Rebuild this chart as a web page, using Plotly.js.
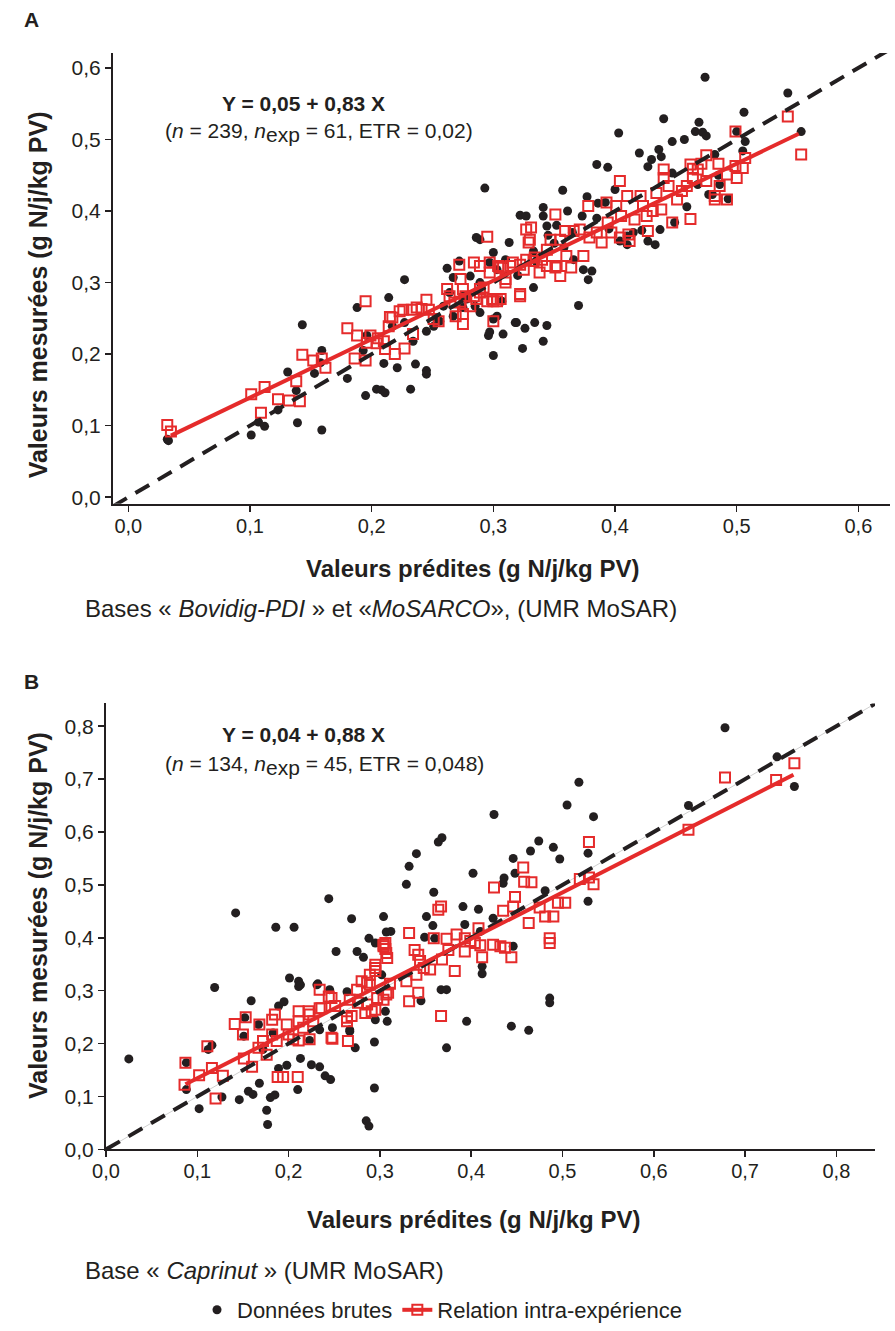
<!DOCTYPE html>
<html><head><meta charset="utf-8">
<script src="https://cdn.plot.ly/plotly-3.0.1.min.js"></script>
<style>html,body{margin:0;padding:0;background:#fff}#chart{width:895px;height:1331px}</style>
</head><body><div id="chart"></div>
<script>
// ---------- Data ----------
const tickValsA = [0, 0.1, 0.2, 0.3, 0.4, 0.5, 0.6];
const tickValsB = [0, 0.1, 0.2, 0.3, 0.4, 0.5, 0.6, 0.7, 0.8];

// Panel A – raw data (black dots) [predicted, measured]
const rawA = [[0.032,0.081],[0.033,0.079],[0.101,0.087],[0.107,0.105],[0.112,0.099],[0.123,0.122],[0.131,0.175],[0.139,0.104],[0.138,0.149],[0.143,0.241],[0.153,0.173],[0.158,0.188],[0.159,0.205],[0.159,0.094],[0.180,0.166],[0.188,0.265],[0.195,0.142],[0.193,0.205],[0.204,0.151],[0.208,0.150],[0.211,0.146],[0.210,0.187],[0.214,0.279],[0.217,0.239],[0.221,0.181],[0.232,0.151],[0.236,0.186],[0.245,0.177],[0.245,0.172],[0.227,0.304],[0.234,0.218],[0.227,0.244],[0.245,0.232],[0.300,0.198],[0.296,0.226],[0.297,0.231],[0.308,0.228],[0.318,0.244],[0.324,0.208],[0.326,0.236],[0.334,0.244],[0.341,0.218],[0.344,0.240],[0.333,0.293],[0.300,0.342],[0.262,0.320],[0.293,0.432],[0.322,0.394],[0.327,0.393],[0.286,0.363],[0.313,0.356],[0.272,0.330],[0.267,0.307],[0.281,0.309],[0.289,0.300],[0.297,0.328],[0.303,0.318],[0.307,0.274],[0.300,0.249],[0.319,0.244],[0.196,0.226],[0.253,0.251],[0.259,0.267],[0.264,0.286],[0.275,0.281],[0.285,0.267],[0.474,0.587],[0.542,0.565],[0.506,0.538],[0.440,0.529],[0.469,0.524],[0.403,0.509],[0.466,0.511],[0.472,0.510],[0.475,0.505],[0.457,0.500],[0.447,0.497],[0.500,0.511],[0.507,0.497],[0.553,0.511],[0.420,0.481],[0.436,0.486],[0.438,0.476],[0.430,0.472],[0.427,0.462],[0.385,0.465],[0.394,0.461],[0.482,0.479],[0.505,0.484],[0.447,0.453],[0.485,0.450],[0.486,0.437],[0.468,0.437],[0.357,0.429],[0.400,0.430],[0.377,0.420],[0.386,0.411],[0.392,0.412],[0.477,0.423],[0.480,0.423],[0.459,0.406],[0.493,0.417],[0.449,0.384],[0.437,0.374],[0.427,0.358],[0.433,0.353],[0.422,0.373],[0.341,0.393],[0.341,0.405],[0.344,0.379],[0.361,0.400],[0.373,0.393],[0.333,0.344],[0.358,0.349],[0.366,0.332],[0.374,0.318],[0.381,0.316],[0.378,0.304],[0.370,0.268],[0.404,0.358],[0.410,0.353],[0.345,0.366],[0.289,0.360],[0.310,0.332],[0.395,0.375],[0.410,0.365],[0.385,0.390],[0.415,0.370],[0.278,0.277],[0.267,0.253],[0.275,0.265],[0.289,0.258],[0.303,0.253],[0.256,0.246],[0.251,0.239],[0.365,0.370],[0.350,0.355],[0.320,0.310],[0.335,0.330],[0.352,0.380]];

// Panel A – intra-experiment relation (red open squares)
const intraA = [[0.032,0.101],[0.035,0.092],[0.101,0.144],[0.112,0.154],[0.109,0.118],[0.123,0.137],[0.132,0.135],[0.141,0.134],[0.138,0.162],[0.143,0.199],[0.152,0.191],[0.159,0.194],[0.162,0.181],[0.180,0.236],[0.188,0.226],[0.195,0.274],[0.186,0.194],[0.195,0.191],[0.199,0.226],[0.196,0.216],[0.204,0.215],[0.210,0.218],[0.211,0.207],[0.215,0.252],[0.214,0.239],[0.219,0.200],[0.223,0.260],[0.205,0.222],[0.217,0.251],[0.227,0.208],[0.226,0.262],[0.233,0.262],[0.234,0.228],[0.237,0.265],[0.241,0.263],[0.245,0.276],[0.247,0.262],[0.251,0.249],[0.255,0.246],[0.262,0.291],[0.264,0.281],[0.268,0.272],[0.273,0.273],[0.275,0.291],[0.273,0.305],[0.272,0.325],[0.277,0.281],[0.281,0.267],[0.284,0.281],[0.286,0.277],[0.289,0.286],[0.292,0.293],[0.295,0.274],[0.300,0.274],[0.303,0.274],[0.284,0.328],[0.297,0.328],[0.304,0.323],[0.308,0.321],[0.310,0.300],[0.316,0.328],[0.322,0.325],[0.325,0.318],[0.327,0.332],[0.329,0.356],[0.327,0.374],[0.322,0.281],[0.300,0.246],[0.275,0.242],[0.275,0.256],[0.269,0.253],[0.295,0.364],[0.289,0.323],[0.297,0.314],[0.306,0.321],[0.314,0.323],[0.331,0.377],[0.330,0.360],[0.334,0.335],[0.340,0.332],[0.344,0.346],[0.347,0.360],[0.351,0.395],[0.351,0.321],[0.355,0.309],[0.359,0.372],[0.360,0.337],[0.364,0.321],[0.366,0.372],[0.371,0.374],[0.374,0.337],[0.378,0.407],[0.379,0.363],[0.385,0.370],[0.389,0.356],[0.393,0.412],[0.394,0.384],[0.397,0.370],[0.401,0.407],[0.404,0.442],[0.404,0.363],[0.405,0.393],[0.410,0.421],[0.411,0.367],[0.412,0.358],[0.416,0.388],[0.421,0.421],[0.423,0.407],[0.426,0.393],[0.427,0.372],[0.431,0.400],[0.434,0.425],[0.438,0.402],[0.440,0.458],[0.440,0.446],[0.444,0.435],[0.447,0.384],[0.451,0.416],[0.455,0.428],[0.459,0.435],[0.462,0.389],[0.462,0.465],[0.464,0.446],[0.464,0.459],[0.468,0.458],[0.471,0.466],[0.475,0.478],[0.475,0.442],[0.482,0.421],[0.485,0.466],[0.486,0.435],[0.482,0.416],[0.492,0.416],[0.492,0.451],[0.499,0.463],[0.500,0.446],[0.505,0.460],[0.507,0.474],[0.499,0.511],[0.542,0.532],[0.553,0.479],[0.355,0.360],[0.322,0.284],[0.333,0.330],[0.289,0.291],[0.299,0.277],[0.306,0.277],[0.310,0.305],[0.344,0.323],[0.338,0.314],[0.352,0.323]];

// Panel A – fitted line Y = 0,05 + 0,83 X (end points) and identity line
const fitAx = [0.035, 0.551];
const fitAy = [0.086, 0.508];
const diagA = [-0.0126, 0.63];

// Panel B – raw data (black dots)
const rawB = [[0.025,0.171],[0.088,0.164],[0.088,0.113],[0.102,0.077],[0.112,0.189],[0.116,0.197],[0.119,0.306],[0.127,0.099],[0.142,0.447],[0.146,0.094],[0.151,0.214],[0.152,0.249],[0.156,0.110],[0.161,0.104],[0.159,0.281],[0.168,0.125],[0.167,0.236],[0.172,0.189],[0.176,0.074],[0.177,0.047],[0.180,0.098],[0.185,0.103],[0.186,0.420],[0.189,0.271],[0.195,0.279],[0.189,0.153],[0.198,0.159],[0.183,0.220],[0.201,0.324],[0.206,0.420],[0.211,0.318],[0.211,0.308],[0.210,0.113],[0.213,0.172],[0.223,0.206],[0.225,0.160],[0.232,0.313],[0.234,0.156],[0.240,0.139],[0.246,0.132],[0.244,0.474],[0.234,0.226],[0.245,0.302],[0.248,0.230],[0.252,0.374],[0.264,0.298],[0.267,0.226],[0.269,0.436],[0.273,0.192],[0.275,0.374],[0.282,0.363],[0.288,0.399],[0.294,0.203],[0.294,0.116],[0.285,0.054],[0.288,0.044],[0.295,0.245],[0.304,0.440],[0.302,0.330],[0.306,0.261],[0.307,0.411],[0.308,0.242],[0.295,0.390],[0.312,0.412],[0.329,0.501],[0.332,0.535],[0.340,0.559],[0.364,0.581],[0.368,0.589],[0.359,0.486],[0.351,0.440],[0.358,0.423],[0.349,0.401],[0.391,0.459],[0.408,0.454],[0.402,0.522],[0.425,0.633],[0.393,0.425],[0.446,0.550],[0.436,0.513],[0.435,0.503],[0.448,0.522],[0.465,0.564],[0.474,0.583],[0.490,0.571],[0.497,0.549],[0.505,0.651],[0.518,0.694],[0.534,0.629],[0.528,0.560],[0.528,0.469],[0.481,0.489],[0.446,0.384],[0.412,0.346],[0.412,0.332],[0.486,0.286],[0.486,0.277],[0.444,0.233],[0.463,0.225],[0.395,0.242],[0.373,0.192],[0.367,0.302],[0.373,0.302],[0.345,0.281],[0.360,0.399],[0.410,0.412],[0.424,0.437],[0.678,0.797],[0.735,0.742],[0.754,0.686],[0.638,0.650],[0.213,0.311],[0.231,0.311],[0.267,0.223]];

// Panel B – intra-experiment relation (red open squares)
const intraB = [[0.087,0.164],[0.086,0.122],[0.102,0.140],[0.111,0.195],[0.116,0.154],[0.128,0.139],[0.120,0.096],[0.141,0.237],[0.150,0.217],[0.153,0.250],[0.151,0.172],[0.160,0.156],[0.167,0.192],[0.168,0.236],[0.176,0.179],[0.172,0.205],[0.182,0.245],[0.185,0.255],[0.182,0.217],[0.187,0.205],[0.188,0.137],[0.194,0.137],[0.198,0.236],[0.200,0.217],[0.205,0.208],[0.211,0.261],[0.211,0.242],[0.210,0.137],[0.211,0.206],[0.222,0.261],[0.223,0.208],[0.216,0.230],[0.227,0.242],[0.234,0.302],[0.234,0.267],[0.244,0.289],[0.251,0.271],[0.248,0.209],[0.265,0.205],[0.264,0.242],[0.269,0.252],[0.267,0.283],[0.275,0.302],[0.289,0.311],[0.295,0.343],[0.295,0.337],[0.304,0.387],[0.304,0.384],[0.304,0.283],[0.295,0.264],[0.307,0.293],[0.284,0.258],[0.223,0.255],[0.247,0.211],[0.236,0.267],[0.264,0.249],[0.247,0.286],[0.280,0.318],[0.286,0.315],[0.289,0.330],[0.295,0.349],[0.306,0.390],[0.306,0.379],[0.307,0.371],[0.308,0.362],[0.311,0.313],[0.309,0.296],[0.297,0.286],[0.286,0.274],[0.276,0.277],[0.291,0.261],[0.329,0.318],[0.332,0.409],[0.332,0.280],[0.338,0.377],[0.340,0.330],[0.342,0.368],[0.344,0.356],[0.342,0.296],[0.348,0.343],[0.355,0.340],[0.359,0.399],[0.364,0.453],[0.367,0.459],[0.367,0.252],[0.368,0.359],[0.373,0.398],[0.375,0.377],[0.382,0.337],[0.384,0.406],[0.393,0.399],[0.393,0.374],[0.399,0.394],[0.404,0.390],[0.408,0.418],[0.410,0.386],[0.412,0.363],[0.424,0.387],[0.425,0.495],[0.432,0.384],[0.435,0.451],[0.437,0.381],[0.444,0.363],[0.446,0.459],[0.448,0.477],[0.457,0.533],[0.458,0.506],[0.463,0.428],[0.466,0.505],[0.475,0.457],[0.481,0.440],[0.486,0.399],[0.486,0.390],[0.490,0.440],[0.495,0.466],[0.503,0.466],[0.519,0.511],[0.529,0.581],[0.529,0.514],[0.534,0.501],[0.638,0.604],[0.678,0.703],[0.734,0.698],[0.754,0.730]];

// Panel B – fitted line Y = 0,04 + 0,88 X and identity line
const fitBx = [0.087, 0.753];
const fitBy = [0.123, 0.708];
const diagB = [0, 0.845];

// Texts
const legendNames = ['Données brutes', 'Relation intra-expérience'];
const EXP = '<sub><span style="font-size:21px">exp</span></sub>';
const eqA = 'Y = 0,05 + 0,83 X';
const statsA = '(<i>n</i> = 239, <i>n</i>' + EXP + ' = 61, ETR = 0,02)';
const eqB = 'Y = 0,04 + 0,88 X';
const statsB = '(<i>n</i> = 134, <i>n</i>' + EXP + ' = 45, ETR = 0,048)';
const captionA = 'Bases « <i>Bovidig-PDI</i> » et «<i>MoSARCO</i>», (UMR MoSAR)';
const captionB = 'Base « <i>Caprinut</i> » (UMR MoSAR)';
const xTitle = 'Valeurs prédites (g N/j/kg PV)';
const yTitle = 'Valeurs mesurées (g N/j/kg PV)';

// ---------- Styles ----------
const RED = '#e52b2b';
const BLK = '#231f20';
const SANS = '"Liberation Sans", Arial, sans-serif';
const W = 895, H = 1331;
const px = v => v / W, py = v => 1 - v / H;

function xs(p){return p.map(d=>d[0]);}
function ys(p){return p.map(d=>d[1]);}

function panel(raw, intra, fx, fy, diag, xa, ya, legend, grey) {
  const tr = [];
  if (grey) tr.push({x: diag, y: diag, xaxis: xa, yaxis: ya, mode: 'lines', type: 'scatter',
    line: {color: '#cfcfcf', width: 1}, showlegend: false, hoverinfo: 'skip'});
  tr.push({x: xs(raw), y: ys(raw), xaxis: xa, yaxis: ya, type: 'scatter', mode: 'markers',
    name: legendNames[0], showlegend: legend, legendgroup: 'raw',
    marker: {symbol: 'circle', size: 9, color: BLK, line: {width: 0}}});
  tr.push({x: xs(intra), y: ys(intra), xaxis: xa, yaxis: ya, type: 'scatter', mode: 'markers',
    name: legendNames[1], showlegend: false, legendgroup: 'intra',
    marker: {symbol: 'square-open', size: 10, color: RED, line: {width: 2, color: RED}}});
  tr.push({x: diag, y: diag, xaxis: xa, yaxis: ya, type: 'scatter', mode: 'lines',
    line: {color: BLK, width: 4, dash: '16px,10px'}, showlegend: false, hoverinfo: 'skip'});
  tr.push({x: fx, y: fy, xaxis: xa, yaxis: ya, type: 'scatter', mode: 'lines+markers',
    name: legendNames[1], showlegend: legend, legendgroup: 'intra',
    line: {color: RED, width: 4},
    marker: {symbol: 'square-open', size: 10, color: RED, line: {width: 2, color: RED}},
    selectedpoints: [], unselected: {marker: {opacity: 0}}});
  return tr;
}

const data = [].concat(
  panel(rawA, intraA, fitAx, fitAy, diagA, 'x', 'y', false, false),
  panel(rawB, intraB, fitBx, fitBy, diagB, 'x2', 'y2', true, true)
);

function axisDef(dom, range, ticks, anchor, isX) {
  return {domain: dom, range: range, anchor: anchor, tickvals: ticks, tickformat: '.1f',
    showline: true, linecolor: BLK, linewidth: 2, ticks: 'outside', ticklen: 6, tickwidth: 1.5,
    tickcolor: BLK, showgrid: false, zeroline: false, fixedrange: true,
    ticklabelstandoff: isX ? -3 : 0,
    tickfont: {family: SANS, size: isX ? 20 : 21, color: BLK}};
}

const ann = (text, x, y, opts) => Object.assign({text: text, x: px(x), y: py(y), xref: 'paper', yref: 'paper',
  showarrow: false, xanchor: 'left', yanchor: 'middle', font: {family: SANS, size: 21, color: BLK}}, opts || {});
const titleFontX = {family: SANS, size: 24, color: BLK, weight: 'bold'};
const titleFontY = {family: SANS, size: 25, color: BLK, weight: 'bold'};

const layout = {
  width: W, height: H, margin: {l: 0, r: 0, t: 0, b: 0}, paper_bgcolor: '#fff', plot_bgcolor: 'rgba(0,0,0,0)',
  separators: ', ', showlegend: true, hovermode: false,
  xaxis: axisDef([px(113), px(890)], [-0.0126, 0.626], tickValsA, 'y', true),
  yaxis: axisDef([py(505), py(53)], [-0.0093, 0.621], tickValsA, 'x', false),
  xaxis2: axisDef([px(106), px(875)], [0, 0.8423], tickValsB, 'y2', true),
  yaxis2: axisDef([py(1152), py(705)], [0, 0.843], tickValsB, 'x2', false),
  legend: {orientation: 'h', x: px(197), y: py(1313), xanchor: 'left', yanchor: 'middle',
    font: {family: SANS, size: 22, color: BLK}, itemwidth: 30, bgcolor: 'rgba(0,0,0,0)', tracegroupgap: 0},
  annotations: [
    ann('<b>A</b>', 31, 20, {xanchor: 'center', font: {family: SANS, size: 21, color: BLK}}),
    ann('<b>' + eqA + '</b>', 303, 104, {xanchor: 'center'}),
    ann(statsA, 163, 133),
    ann(xTitle, 472, 570, {xanchor: 'center', font: titleFontX}),
    ann(yTitle, 38, 296, {xanchor: 'center', textangle: -90, font: titleFontY}),
    ann(captionA, 83, 610, {font: {family: SANS, size: 24, color: BLK}}),
    ann('<b>B</b>', 31, 683, {xanchor: 'center', font: {family: SANS, size: 21, color: BLK}}),
    ann('<b>' + eqB + '</b>', 303, 736, {xanchor: 'center'}),
    ann(statsB, 163, 767),
    ann(xTitle, 473, 1222, {xanchor: 'center', font: titleFontX}),
    ann(yTitle, 38, 918, {xanchor: 'center', textangle: -90, font: titleFontY}),
    ann(captionB, 83, 1273, {font: {family: SANS, size: 24, color: BLK}})
  ]
};

Plotly.newPlot('chart', data, layout, {displayModeBar: false, staticPlot: true});
</script>
</body></html>
